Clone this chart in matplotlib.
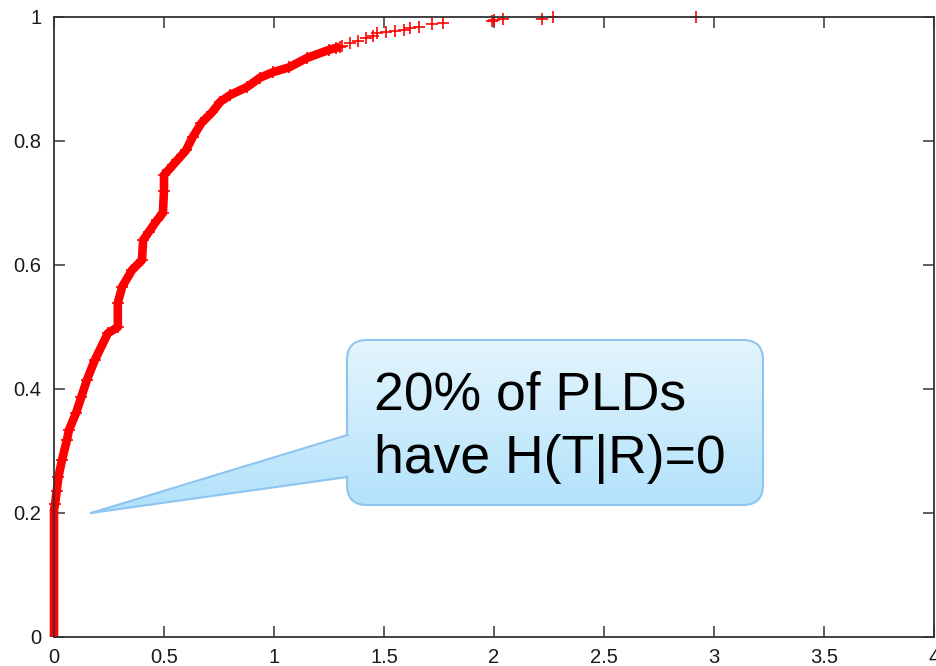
import numpy as np
import matplotlib.pyplot as plt
from matplotlib.patches import FancyBboxPatch, Polygon
from matplotlib.colors import LinearSegmentedColormap

plt.rcParams['font.family'] = ['Liberation Sans', 'DejaVu Sans']

# CDF: dense part (drawn as a thick band of '+')
curve_x = [0, 0, 0, 0, 0, 0.005, 0.012, 0.02, 0.036, 0.059, 0.068, 0.10, 0.124,
           0.15, 0.186, 0.245, 0.29, 0.29, 0.31, 0.355, 0.40, 0.405, 0.43, 0.47,
           0.495, 0.50, 0.50, 0.52, 0.56, 0.60, 0.63, 0.67, 0.72, 0.755, 0.80,
           0.877, 0.936, 0.995, 1.07, 1.15, 1.25, 1.30]
curve_y = [0, 0.05, 0.10, 0.15, 0.205, 0.215, 0.235, 0.258, 0.285, 0.318, 0.334,
           0.361, 0.387, 0.415, 0.447, 0.49, 0.50, 0.539, 0.565, 0.592, 0.608,
           0.64, 0.653, 0.673, 0.684, 0.72, 0.745, 0.753, 0.769, 0.785, 0.806,
           0.829, 0.847, 0.863, 0.874, 0.887, 0.902, 0.911, 0.919, 0.934, 0.947,
           0.952]
# sparse upper tail (single '+' markers)
tail_x = [1.28, 1.31, 1.345, 1.38, 1.42, 1.45, 1.47, 1.51, 1.55, 1.59, 1.62,
          1.66, 1.72, 1.77, 1.99, 2.0, 2.04, 2.22, 2.27, 2.92]
tail_y = [0.950, 0.953, 0.958, 0.961, 0.966, 0.970, 0.974, 0.976, 0.978, 0.979,
          0.982, 0.984, 0.989, 0.990, 0.993, 0.995, 0.997, 0.997, 1.0, 1.0]

x_ticks = [0, 0.5, 1, 1.5, 2, 2.5, 3, 3.5, 4]
x_labels = ['0', '0.5', '1', '1.5', '2', '2.5', '3', '3.5', '4']
y_ticks = [0, 0.2, 0.4, 0.6, 0.8, 1]
y_labels = ['0', '0.2', '0.4', '0.6', '0.8', '1']

note_lines = ['20% of PLDs', 'have H(T|R)=0']

W, H = 937, 666
fig = plt.figure(figsize=(W / 100, H / 100), dpi=100)
ax = fig.add_axes([54 / W, 29 / H, 880 / W, 620 / H])

ax.plot(curve_x, curve_y, color='red', lw=6.2, solid_capstyle='butt', clip_on=False)
ax.plot(curve_x[5:], curve_y[5:], '+', color='red', ms=8, mew=1.2, clip_on=False)
ax.plot(tail_x, tail_y, '+', color='red', ms=8, mew=1.2, clip_on=False)

ax.set_xlim(0, 4)
ax.set_ylim(0, 1)
ax.set_xticks(x_ticks)
ax.set_xticklabels(x_labels)
ax.set_yticks(y_ticks)
ax.set_yticklabels(y_labels)
ax.tick_params(direction='in', length=8, width=1.2, top=True, right=True,
               labelsize=14.5, color='#444444', labelcolor='#1a1a1a')
ax.tick_params(axis='x', pad=8)
ax.tick_params(axis='y', pad=9)
for s in ax.spines.values():
    s.set_color('#333333')
    s.set_linewidth(1.3)

# callout drawn on a pixel overlay
ov = fig.add_axes([0, 0, 1, 1])
ov.axis('off')
ov.patch.set_alpha(0)

cmap = LinearSegmentedColormap.from_list('callout', ['#e4f5fd', '#b0e1fb'])
grad = np.linspace(0, 1, 256).reshape(-1, 1)
edge = '#8ec4f0'

box = FancyBboxPatch((347, 340), 416, 165, boxstyle='round,pad=0,rounding_size=20',
                     fc='none', ec=edge, lw=1.5, zorder=3)
ov.add_patch(box)
im1 = ov.imshow(grad, extent=(80, 770, 515, 340), cmap=cmap, aspect='auto',
                origin='upper', zorder=1)
im1.set_clip_path(box)

tip = Polygon([(91, 513), (350, 435), (350, 477)], closed=True, fc='none', ec='none')
ov.add_patch(tip)
im2 = ov.imshow(grad, extent=(80, 770, 515, 340), cmap=cmap, aspect='auto',
                origin='upper', zorder=4)
im2.set_clip_path(tip)
ov.plot([91, 347.5], [513, 435], color=edge, lw=1.5, zorder=5)
ov.plot([91, 347.5], [513, 477], color=edge, lw=1.5, zorder=5)

ov.text(374, 410, note_lines[0], fontsize=38.5, va='baseline', color='black', zorder=6)
ov.text(374, 473, note_lines[1], fontsize=38.5, va='baseline', color='black', zorder=6)

ov.set_xlim(0, W)
ov.set_ylim(H, 0)

plt.savefig('out.png', dpi=100)
